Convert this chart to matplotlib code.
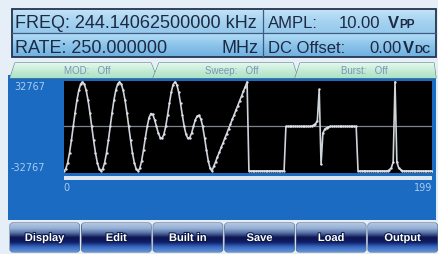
import numpy as np
import matplotlib.pyplot as plt
from matplotlib.patches import Rectangle, FancyBboxPatch, Polygon
from matplotlib.colors import to_rgb
import matplotlib.patheffects as pe

plt.rcParams['font.family'] = ['Liberation Sans', 'DejaVu Sans']

# waveform samples (fraction of full scale)
sine_part = [-1, -0.95, -0.81, -0.59, -0.31, 0, 0.31, 0.59, 0.81, 0.95,
             1, 0.95, 0.81, 0.59, 0.31, 0, -0.31, -0.59, -0.81, -0.95,
             -1, -0.95, -0.81, -0.59, -0.31, 0, 0.31, 0.59, 0.81, 0.95,
             1, 0.95, 0.81, 0.59, 0.31, 0, -0.31, -0.59, -0.81, -0.95]
harmonic_part = [-1, -0.94, -0.77, -0.52, -0.25, 0, 0.2, 0.29, 0.27, 0.15,
                 0, -0.15, -0.25, -0.27, -0.18, 0, 0.25, 0.52, 0.77, 0.94,
                 1, 0.94, 0.77, 0.52, 0.25, 0, -0.18, -0.27, -0.25, -0.15,
                 0, 0.15, 0.23, 0.25, 0.17, 0, -0.25, -0.52, -0.77, -0.94]
ramp_part = [-1, -0.89, -0.79, -0.68, -0.58, -0.47, -0.37, -0.26, -0.16, -0.05,
             0.05, 0.16, 0.26, 0.37, 0.47, 0.58, 0.68, 0.79, 0.89, 1]
square_part = [-1] * 20
pulse_part = [0, 0, 0, 0, 0, 0, 0, 0, 0, 0,
              0, 0, 0, 0, 0.01, 0.03, 0.06, 0.13, 0.83, -0.85,
              -0.15, -0.06, -0.03, -0.01, 0, 0, 0, 0, 0, 0,
              0, 0, 0, 0, 0, 0, 0, 0, 0]
peak_part = [-1, -1, -1, -1, -1, -1, -1, -1, -1, -1,
             -1, -1, -1, -1, -1, -1, -1, -0.97, -0.93, -0.8,
             1, -0.8, -0.93, -0.97, -1, -1, -1, -1, -1, -1,
             -1, -1, -1, -1, -1, -1, -1, -1, -1, -1, -1]
wave = sine_part + harmonic_part + ramp_part + square_part + pulse_part + peak_part
full_scale = 32767

y_labels = ['32767', '-32767']
x_labels = ['0', '199']
tab_labels = ['MOD:   Off', 'Sweep:   Off', 'Burst:   Off']
button_labels = ['Display', 'Edit', 'Built in', 'Save', 'Load', 'Output']


def gradient(ax, x0, y0, w, h, stops, z, clip=None):
    cols = np.array([to_rgb(c) for c in stops])
    pos = np.linspace(0, 1, len(stops))
    t = np.linspace(0, 1, 64)
    img = np.stack([np.interp(t, pos, cols[:, k]) for k in range(3)], axis=-1)[:, None, :]
    im = ax.imshow(img, extent=(x0, x0 + w, y0 + h, y0), aspect='auto',
                   interpolation='bilinear', zorder=z)
    if clip is not None:
        im.set_clip_path(clip)
    return im


fig = plt.figure(figsize=(4.39, 2.55), dpi=100, facecolor='#e6eff8')
bg = fig.add_axes([0, 0, 1, 1])
bg.axis('off')

# header
gradient(bg, 12, 10, 424, 24, ['#c4e3f7', '#a6d3f0', '#96c9ec'], 2)
gradient(bg, 12, 34, 424, 24, ['#b4def7', '#8cc4ea', '#6eb0e0'], 2)
bg.add_patch(Rectangle((12, 10), 424, 48, fc='none', ec='#24344e', lw=1.3, zorder=5))
bg.plot([12, 436], [34, 34], color='#3c5c82', lw=0.9, zorder=5)
bg.plot([263, 263], [10, 58], color='#3c5c82', lw=0.9, zorder=5)
hc = '#1c2a44'
bg.text(15, 28, 'FREQ: 244.14062500000 kHz', fontsize=13, color=hc, zorder=6)
bg.text(15, 53, 'RATE: 250.000000', fontsize=13, color=hc, zorder=6)
bg.text(259, 53, 'MHz', fontsize=13, color=hc, ha='right', zorder=6)
bg.text(268, 28, 'AMPL:', fontsize=12, color=hc, zorder=6)
bg.text(380, 28, '10.00', fontsize=12, color=hc, ha='right', zorder=6)
bg.text(388, 28, 'V', fontsize=12, color=hc, fontweight='bold', zorder=6)
bg.text(399, 28, 'PP', fontsize=8.5, color=hc, fontweight='bold', zorder=6)
bg.text(268, 53, 'DC Offset:', fontsize=12, color=hc, zorder=6)
bg.text(402, 53, '0.00', fontsize=12, color=hc, ha='right', zorder=6)
bg.text(403, 53, 'V', fontsize=12, color=hc, fontweight='bold', zorder=6)
bg.text(414, 53, 'DC', fontsize=8, color=hc, fontweight='bold', zorder=6)

# blue panel
bg.add_patch(Rectangle((8, 76), 428, 145, fc='#1c6bc2', ec='none', zorder=1))

# tabs
tab_edges = [(10, 13), (153, 157), (295, 298), (436, 436)]
tab_centers = [87, 232, 364]
for i, lab in enumerate(tab_labels):
    (a0, a1), (b0, b1) = tab_edges[i], tab_edges[i + 1]
    poly = Polygon([(a0, 79), (a1 + 2, 64), (b0 - 2, 64), (b1, 79)], closed=True,
                   fc='#c6edd8', ec='#5f8282', lw=0.8, zorder=3)
    bg.add_patch(poly)
    gradient(bg, a0, 64, b1 - a0, 15, ['#e4f8ee', '#c4ecd6', '#aee2c6'], 3, clip=poly)
    bg.text(tab_centers[i], 71.5, lab, fontsize=7, color='#7b94b4',
            ha='center', va='center', zorder=4)

# plot area
ax = fig.add_axes([64 / 439, 1 - 174 / 255, 368 / 439, 92 / 255])
ax.set_facecolor('black')
idx = np.arange(len(wave))
ax.axhline(0, color='#7e838c', lw=0.9)
ax.plot(idx, np.array(wave) * full_scale, color='#cfd3db', lw=1.2,
        marker='o', ms=0.7, mec='#dfe2e8', mfc='#dfe2e8')
ax.set_xlim(0, 199)
ax.set_ylim(-1.045 * full_scale, 1.02 * full_scale)
ax.set_xticks([])
ax.set_yticks([])
for s in ax.spines.values():
    s.set_visible(False)

bg.add_patch(Rectangle((64, 177), 368, 4, fc='#dde7f2', ec='none', zorder=2))
lc = '#a9cbef'
bg.text(45, 87, y_labels[0], fontsize=7, color=lc, ha='right', va='center',
        family='DejaVu Sans', zorder=4)
bg.text(45, 168, y_labels[1], fontsize=7, color=lc, ha='right', va='center',
        family='DejaVu Sans', zorder=4)
bg.text(66, 188, x_labels[0], fontsize=7, color=lc, ha='center', va='center',
        family='DejaVu Sans', zorder=4)
bg.text(432, 188, x_labels[1], fontsize=7, color=lc, ha='right', va='center',
        family='DejaVu Sans', zorder=4)

# soft keys
for i, lab in enumerate(button_labels):
    x0 = 10 + i * 71.6
    w, h, y0 = 69.5, 29, 224
    patch = FancyBboxPatch((x0, y0), w, h, boxstyle='round,pad=0,rounding_size=3',
                           fc='#1a2a6a', ec='#5a7090', lw=0.8, zorder=3)
    bg.add_patch(patch)
    gradient(bg, x0, y0, w, h,
             ['#b2c6e0', '#98b2d6', '#5a74aa', '#0c1450', '#101f68', '#3a6cc4', '#6490d4'],
             3, clip=patch)
    bg.text(x0 + w / 2, 239, lab, fontsize=8, color='white', fontweight='bold',
            ha='center', va='center', zorder=4,
            path_effects=[pe.withStroke(linewidth=1.5, foreground='#0c1848')])

bg.set_xlim(0, 439)
bg.set_ylim(255, 0)
fig.savefig('out.png', dpi=100, facecolor=fig.get_facecolor())
